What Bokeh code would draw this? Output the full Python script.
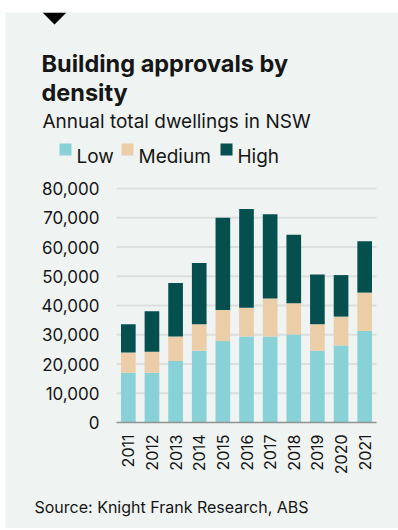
import math
from bokeh.plotting import figure
from bokeh.models import (Range1d, Label, BoxAnnotation, PolyAnnotation,
                          FixedTicker, NumeralTickFormatter, LinearAxis)
from bokeh.embed import file_html
from bokeh.resources import INLINE

# ---- data ----
years = ["2011", "2012", "2013", "2014", "2015", "2016", "2017", "2018", "2019", "2020", "2021"]
low = [17000, 17000, 21000, 24500, 27900, 29400, 29400, 30100, 24500, 26300, 31300]
medium = [6900, 7200, 8400, 9100, 10600, 9800, 13000, 10700, 9100, 9900, 13100]
high = [9700, 13850, 18300, 20900, 31500, 33800, 28800, 23400, 17000, 14200, 17600]
series = ["Low", "Medium", "High"]
colors = ["#88d1d6", "#ebcda8", "#054f4f"]
y_ticks = [0, 10000, 20000, 30000, 40000, 50000, 60000, 70000, 80000]
title_lines = ["Building approvals by", "density"]
subtitle = "Annual total dwellings in NSW"
source = "Source: Knight Frank Research, ABS"

FONT = "Inter"
BG = "#eff3f2"
INK = "#161616"

# ---- page geometry (pixels) ----
X0, Y0, X1, Y1 = 5, 12, 398, 528          # grey panel
PL, PR, PT, PB = 116, 376, 188, 422       # plotting area
n = len(years)
ymax = y_ticks[-1]

# data ranges so that the plotting area lands where wanted, frame = whole panel
ux = (PR - PL) / n                       # px per category
xa = -0.5 - (PL - X0) / ux
xb = n - 0.5 + (X1 - PR) / ux
uy = ymax / (PB - PT)                    # value per px
ya = 0 - (Y1 - PB) * uy
yb = ymax + (PT - Y0) * uy


def dx(X):
    return xa + (X - X0) / (X1 - X0) * (xb - xa)


def dy(Y):
    return yb - (Y - Y0) / (Y1 - Y0) * (yb - ya)


p = figure(x_range=Range1d(xa, xb), y_range=Range1d(ya, yb),
           width=X1 - X0, height=Y1 - Y0, output_backend="svg", toolbar_location=None,
           min_border=0, x_axis_location=None, y_axis_location=None,
           margin=(Y0, 0, 0, X0), background_fill_color=BG, border_fill_color=BG,
           outline_line_color=None)
p.grid.visible = False

idx = list(range(n))

# grid lines
p.segment(x0=-0.5, x1=n - 0.5, y0=y_ticks[1:], y1=y_ticks[1:], line_color="#dcdfde", line_width=2)

data = {"x": idx, "Low": low, "Medium": medium, "High": high}
p.vbar_stack(series, x="x", width=0.62, color=colors, line_color=None, source=data)

# axes drawn at fixed positions inside the frame
yax = LinearAxis(fixed_location=-0.5, ticker=FixedTicker(ticks=y_ticks),
                 formatter=NumeralTickFormatter(format="0,0"),
                 axis_line_color=None, major_tick_line_color=None, minor_tick_line_color=None,
                 major_tick_in=0, major_tick_out=0, major_label_standoff=17,
                 major_label_text_font=FONT, major_label_text_font_size="17px",
                 major_label_text_color=INK)
p.add_layout(yax, "left")

xax = LinearAxis(fixed_location=0, ticker=FixedTicker(ticks=idx),
                 major_label_overrides={i: y for i, y in zip(idx, years)},
                 bounds=(-0.5, n - 0.5),
                 axis_line_color="#8e9392", axis_line_width=1.5,
                 major_tick_line_color=None, minor_tick_line_color=None,
                 major_tick_in=0, major_tick_out=0,
                 major_label_orientation=math.pi / 2, major_label_standoff=12,
                 major_label_text_font=FONT, major_label_text_font_size="16px",
                 major_label_text_color=INK)
p.add_layout(xax, "below")


def lab(text, X, Y, size, bold=False):
    p.add_layout(Label(text=text, x=dx(X), y=dy(Y), text_font=FONT, text_font_size=size,
                       text_font_style="bold" if bold else "normal",
                       text_color=INK, text_align="left", text_baseline="alphabetic"))


# decorative marker triangle
p.add_layout(PolyAnnotation(xs=[dx(42), dx(66), dx(54)], ys=[dy(Y0), dy(Y0), dy(24)],
                            fill_color="black", fill_alpha=1, line_color=None))

lab(title_lines[0], 41, 62.5, "23.5px", bold=True)
lab(title_lines[1], 41, 91.5, "23.5px", bold=True)
lab(subtitle, 42, 120.7, "19px")

leg_x = [59, 121, 220]
for name, col, lx in zip(series, colors, leg_x):
    p.add_layout(BoxAnnotation(left=dx(lx), right=dx(lx + 12), top=dy(143), bottom=dy(155),
                               fill_color=col, fill_alpha=1, line_color=None))
    lab(name, lx + 17, 156, "19px")

lab(source, 34, 506.7, "16px")

open("out.html", "w").write(file_html(p, INLINE))
